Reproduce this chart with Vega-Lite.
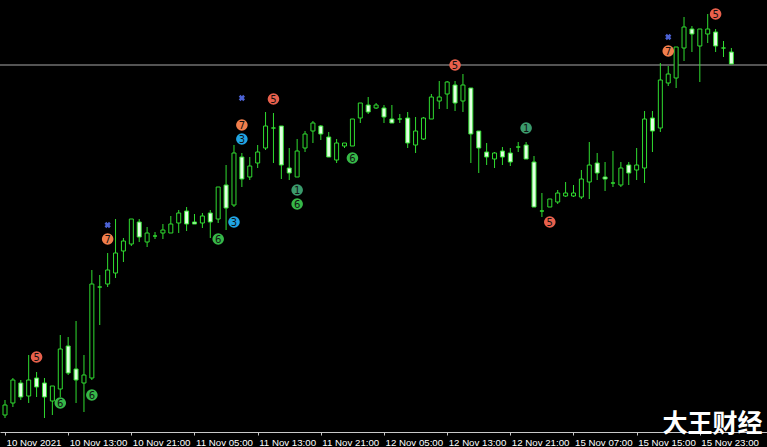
{
  "$schema": "https://vega.github.io/schema/vega-lite/v6.json",
  "width": 767,
  "height": 432,
  "padding": {"left": 0, "top": 0, "right": 0, "bottom": 15},
  "autosize": {"type": "none"},
  "background": "#000000",
  "config": {"view": {"stroke": null}},
  "datasets": {
    "candles": [
      {"k":0,"o":1833.5,"h":1835.0,"l":1833.2,"c":1834.5},
      {"k":1,"o":1834.7,"h":1837.2,"l":1834.3,"c":1837.0},
      {"k":2,"o":1836.7,"h":1837.0,"l":1835.0,"c":1835.3},
      {"k":3,"o":1835.4,"h":1839.5,"l":1834.7,"c":1837.0},
      {"k":4,"o":1837.2,"h":1837.8,"l":1835.3,"c":1836.3},
      {"k":5,"o":1836.7,"h":1837.2,"l":1833.2,"c":1835.3},
      {"k":6,"o":1834.9,"h":1836.4,"l":1833.5,"c":1836.4},
      {"k":7,"o":1836.1,"h":1841.5,"l":1835.3,"c":1840.1},
      {"k":8,"o":1840.4,"h":1841.3,"l":1837.5,"c":1837.7},
      {"k":9,"o":1838.1,"h":1842.9,"l":1834.7,"c":1837.0},
      {"k":10,"o":1836.7,"h":1839.5,"l":1833.8,"c":1837.5},
      {"k":11,"o":1837.2,"h":1848.0,"l":1837.0,"c":1846.6},
      {"k":12,"o":1846.3,"h":1847.5,"l":1842.5,"c":1846.3},
      {"k":13,"o":1846.6,"h":1849.7,"l":1846.3,"c":1848.0},
      {"k":14,"o":1847.7,"h":1853.1,"l":1847.2,"c":1849.7},
      {"k":15,"o":1849.9,"h":1851.2,"l":1848.8,"c":1850.9},
      {"k":16,"o":1850.6,"h":1853.1,"l":1850.4,"c":1853.1},
      {"k":17,"o":1852.8,"h":1853.1,"l":1850.8,"c":1851.3},
      {"k":18,"o":1850.8,"h":1852.3,"l":1850.3,"c":1851.7},
      {"k":19,"o":1851.4,"h":1851.8,"l":1851.1,"c":1851.4},
      {"k":20,"o":1851.7,"h":1852.6,"l":1851.1,"c":1852.0},
      {"k":21,"o":1851.7,"h":1853.4,"l":1851.7,"c":1852.6},
      {"k":22,"o":1852.7,"h":1854.0,"l":1851.7,"c":1853.7},
      {"k":23,"o":1853.9,"h":1854.3,"l":1851.9,"c":1852.6},
      {"k":24,"o":1852.8,"h":1853.6,"l":1852.6,"c":1852.6},
      {"k":25,"o":1852.7,"h":1853.7,"l":1852.2,"c":1853.4},
      {"k":26,"o":1853.7,"h":1854.0,"l":1851.2,"c":1852.8},
      {"k":27,"o":1853.1,"h":1856.3,"l":1852.7,"c":1856.3},
      {"k":28,"o":1856.5,"h":1858.5,"l":1852.0,"c":1854.2},
      {"k":29,"o":1854.5,"h":1860.5,"l":1854.3,"c":1859.7},
      {"k":30,"o":1859.3,"h":1859.7,"l":1856.3,"c":1857.1},
      {"k":31,"o":1857.3,"h":1859.3,"l":1857.0,"c":1858.4},
      {"k":32,"o":1858.7,"h":1860.5,"l":1858.2,"c":1859.8},
      {"k":33,"o":1860.2,"h":1863.8,"l":1860.0,"c":1862.4},
      {"k":34,"o":1862.2,"h":1863.7,"l":1858.7,"c":1862.2},
      {"k":35,"o":1862.4,"h":1862.4,"l":1857.1,"c":1858.5},
      {"k":36,"o":1858.2,"h":1860.2,"l":1857.0,"c":1857.7},
      {"k":37,"o":1857.3,"h":1861.1,"l":1857.3,"c":1859.9},
      {"k":38,"o":1860.2,"h":1861.9,"l":1859.8,"c":1861.6},
      {"k":39,"o":1861.9,"h":1862.9,"l":1860.7,"c":1862.7},
      {"k":40,"o":1862.4,"h":1862.5,"l":1861.0,"c":1861.6},
      {"k":41,"o":1861.3,"h":1861.8,"l":1859.3,"c":1859.3},
      {"k":42,"o":1859.0,"h":1861.1,"l":1858.7,"c":1860.7},
      {"k":43,"o":1860.4,"h":1860.7,"l":1860.2,"c":1860.7},
      {"k":44,"o":1860.4,"h":1863.1,"l":1860.4,"c":1863.1},
      {"k":45,"o":1863.2,"h":1864.7,"l":1862.7,"c":1864.7},
      {"k":46,"o":1864.5,"h":1865.3,"l":1863.6,"c":1863.8},
      {"k":47,"o":1864.2,"h":1864.7,"l":1864.1,"c":1864.5},
      {"k":48,"o":1864.2,"h":1864.5,"l":1862.7,"c":1863.3},
      {"k":49,"o":1863.1,"h":1864.5,"l":1862.7,"c":1862.7},
      {"k":50,"o":1863.1,"h":1863.6,"l":1862.7,"c":1863.1},
      {"k":51,"o":1863.2,"h":1863.8,"l":1860.2,"c":1860.7},
      {"k":52,"o":1860.5,"h":1863.3,"l":1859.7,"c":1861.9},
      {"k":53,"o":1861.1,"h":1863.3,"l":1861.0,"c":1863.2},
      {"k":54,"o":1863.1,"h":1865.6,"l":1863.1,"c":1865.3},
      {"k":55,"o":1864.9,"h":1866.9,"l":1864.1,"c":1865.3},
      {"k":56,"o":1865.6,"h":1866.9,"l":1864.1,"c":1866.8},
      {"k":57,"o":1866.5,"h":1866.9,"l":1863.9,"c":1864.7},
      {"k":58,"o":1864.9,"h":1867.6,"l":1863.8,"c":1866.5},
      {"k":59,"o":1866.2,"h":1866.2,"l":1858.7,"c":1861.6},
      {"k":60,"o":1861.9,"h":1861.9,"l":1857.7,"c":1860.2},
      {"k":61,"o":1859.8,"h":1860.7,"l":1858.5,"c":1859.3},
      {"k":62,"o":1859.1,"h":1859.8,"l":1858.2,"c":1859.7},
      {"k":63,"o":1859.9,"h":1860.3,"l":1858.5,"c":1859.3},
      {"k":64,"o":1859.7,"h":1860.2,"l":1858.4,"c":1858.8},
      {"k":65,"o":1860.3,"h":1860.8,"l":1859.8,"c":1860.3},
      {"k":66,"o":1860.5,"h":1860.8,"l":1859.1,"c":1859.1},
      {"k":67,"o":1858.8,"h":1859.4,"l":1854.3,"c":1854.3},
      {"k":68,"o":1853.9,"h":1855.7,"l":1853.3,"c":1853.9},
      {"k":69,"o":1854.3,"h":1855.1,"l":1854.3,"c":1855.1},
      {"k":70,"o":1854.8,"h":1856.0,"l":1854.6,"c":1855.7},
      {"k":71,"o":1855.4,"h":1856.8,"l":1855.3,"c":1855.7},
      {"k":72,"o":1855.4,"h":1856.5,"l":1855.3,"c":1855.7},
      {"k":73,"o":1855.3,"h":1858.0,"l":1855.1,"c":1857.1},
      {"k":74,"o":1856.8,"h":1860.8,"l":1855.1,"c":1858.5},
      {"k":75,"o":1858.7,"h":1859.7,"l":1857.0,"c":1857.7},
      {"k":76,"o":1857.3,"h":1858.8,"l":1855.9,"c":1857.1},
      {"k":77,"o":1856.7,"h":1859.9,"l":1856.3,"c":1856.7},
      {"k":78,"o":1856.5,"h":1858.8,"l":1856.3,"c":1858.2},
      {"k":79,"o":1858.5,"h":1858.8,"l":1856.5,"c":1857.7},
      {"k":80,"o":1858.0,"h":1860.2,"l":1857.0,"c":1858.5},
      {"k":81,"o":1858.2,"h":1863.9,"l":1856.7,"c":1863.1},
      {"k":82,"o":1863.2,"h":1863.9,"l":1859.8,"c":1861.9},
      {"k":83,"o":1862.2,"h":1868.7,"l":1861.8,"c":1867.0},
      {"k":84,"o":1866.7,"h":1868.4,"l":1866.4,"c":1867.6},
      {"k":85,"o":1867.2,"h":1870.3,"l":1866.2,"c":1870.3},
      {"k":86,"o":1870.2,"h":1873.3,"l":1868.9,"c":1872.3},
      {"k":87,"o":1872.1,"h":1872.4,"l":1869.8,"c":1871.6},
      {"k":88,"o":1870.4,"h":1872.1,"l":1866.8,"c":1872.1},
      {"k":89,"o":1871.6,"h":1873.6,"l":1870.7,"c":1872.1},
      {"k":90,"o":1871.8,"h":1872.1,"l":1869.8,"c":1870.4},
      {"k":91,"o":1870.2,"h":1870.9,"l":1869.3,"c":1870.2},
      {"k":92,"o":1869.8,"h":1870.2,"l":1868.6,"c":1868.6}
    ],
    "signals": [
      {"k":4,"p":1839.3,"n":"5"},
      {"k":7,"p":1834.7,"n":"6"},
      {"k":11,"p":1835.5,"n":"6"},
      {"k":13,"p":1851.1,"n":"7"},
      {"k":27,"p":1851.1,"n":"6"},
      {"k":29,"p":1852.8,"n":"3"},
      {"k":30,"p":1861.1,"n":"3"},
      {"k":30,"p":1862.5,"n":"7"},
      {"k":34,"p":1865.1,"n":"5"},
      {"k":37,"p":1856.0,"n":"1"},
      {"k":37,"p":1854.6,"n":"6"},
      {"k":44,"p":1859.2,"n":"6"},
      {"k":57,"p":1868.5,"n":"5"},
      {"k":66,"p":1862.2,"n":"1"},
      {"k":69,"p":1852.8,"n":"5"},
      {"k":84,"p":1869.9,"n":"7"},
      {"k":90,"p":1873.6,"n":"5"}
    ],
    "crosses": [
      {"k":13,"p":1852.5},
      {"k":30,"p":1865.2},
      {"k":84,"p":1871.3}
    ],
    "level": [{"p":1868.5}],
    "brand": [{"k":89.6,"p":1832.6,"t":"大王财经"}]
  },
  "layer": [
    {
      "data": {"name": "level"},
      "mark": {"type": "rule", "color": "#a8a8a8", "strokeWidth": 1},
      "encoding": {
        "y": {"field": "p", "type": "quantitative", "scale": {"domain": [1831.8, 1875], "nice": false, "zero": false}, "axis": null}
      }
    },
    {
      "data": {"name": "candles"},
      "mark": {"type": "rule", "color": "#30dc30", "strokeWidth": 1},
      "encoding": {
        "x": {"field": "k", "type": "quantitative", "scale": {"domain": [0, 95.875], "nice": false, "zero": false},
          "axis": {
            "values": [0, 8, 16, 24, 32, 40, 48, 56, 64, 72, 80, 88],
            "labelExpr": "['10 Nov 2021','10 Nov 13:00','10 Nov 21:00','11 Nov 05:00','11 Nov 13:00','11 Nov 21:00','12 Nov 05:00','12 Nov 13:00','12 Nov 21:00','15 Nov 07:00','15 Nov 15:00','15 Nov 23:00'][datum.value/8]",
            "title": null, "grid": false,
            "domainColor": "#c8c8c8", "tickColor": "#c8c8c8", "tickSize": 3,
            "labelColor": "#ffffff", "labelFont": "Liberation Sans", "labelFontSize": 9.7,
            "labelAlign": "left", "labelBaseline": "top", "labelPadding": 2, "labelOffset": 1,
            "labelOverlap": false, "labelFlush": false, "labelBound": false
          }},
        "y": {"field": "l", "type": "quantitative"},
        "y2": {"field": "h"}
      }
    },
    {
      "data": {"name": "candles"},
      "mark": {"type": "bar", "width": 4, "stroke": "#30dc30", "strokeWidth": 1},
      "encoding": {
        "x": {"field": "k", "type": "quantitative"},
        "y": {"field": "o", "type": "quantitative"},
        "y2": {"field": "c"},
        "fill": {"condition": {"test": "datum.c >= datum.o", "value": "#000000"}, "value": "#e2ffe2"}
      }
    },
    {
      "data": {"name": "signals"},
      "mark": {"type": "point", "shape": "circle", "filled": true, "size": 135, "opacity": 1},
      "encoding": {
        "x": {"field": "k", "type": "quantitative"},
        "y": {"field": "p", "type": "quantitative"},
        "color": {"field": "n", "type": "nominal", "legend": null,
          "scale": {"domain": ["1", "3", "5", "6", "7"], "range": ["#3a9a6c", "#20a4e4", "#e8604c", "#36b848", "#f07e4c"]}}
      }
    },
    {
      "data": {"name": "signals"},
      "mark": {"type": "text", "font": "DejaVu Sans", "fontSize": 10, "color": "#111111", "align": "center", "baseline": "middle", "dy": 0.5},
      "encoding": {
        "x": {"field": "k", "type": "quantitative"},
        "y": {"field": "p", "type": "quantitative"},
        "text": {"field": "n"}
      }
    },
    {
      "data": {"name": "crosses"},
      "mark": {"type": "point", "shape": "cross", "filled": true, "size": 40, "angle": 45, "color": "#4c62d4", "opacity": 1},
      "encoding": {
        "x": {"field": "k", "type": "quantitative"},
        "y": {"field": "p", "type": "quantitative"}
      }
    },
    {
      "data": {"name": "brand"},
      "mark": {"type": "text", "font": "Noto Sans CJK SC", "fontSize": 25, "fontWeight": "bold", "color": "#ffffff", "align": "center", "baseline": "middle"},
      "encoding": {
        "x": {"field": "k", "type": "quantitative"},
        "y": {"field": "p", "type": "quantitative"},
        "text": {"field": "t"}
      }
    }
  ]
}
